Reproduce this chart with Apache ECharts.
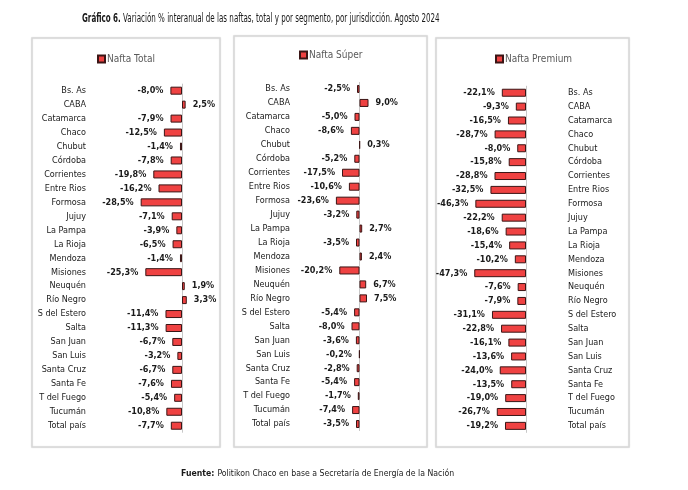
<!DOCTYPE html>
<html><head><meta charset="utf-8">
<script src="https://cdn.jsdelivr.net/npm/echarts@6/dist/echarts.min.js"></script>
<style>html,body{margin:0;padding:0;background:#fff}#c{width:688px;height:490px}</style>
</head><body><div id="c"></div>
<script>
const categories = ['Bs. As','CABA','Catamarca','Chaco','Chubut','Córdoba','Corrientes','Entre Rios','Formosa','Jujuy','La Pampa','La Rioja','Mendoza','Misiones','Neuquén','Río Negro','S del Estero','Salta','San Juan','San Luis','Santa Cruz','Santa Fe','T del Fuego','Tucumán','Total país'];
const naftaTotal = [-8.0,2.5,-7.9,-12.5,-1.4,-7.8,-19.8,-16.2,-28.5,-7.1,-3.9,-6.5,-1.4,-25.3,1.9,3.3,-11.4,-11.3,-6.7,-3.2,-6.7,-7.6,-5.4,-10.8,-7.7];
const naftaSuper = [-2.5,9.0,-5.0,-8.6,0.3,-5.2,-17.5,-10.6,-23.6,-3.2,2.7,-3.5,2.4,-20.2,6.7,7.5,-5.4,-8.0,-3.6,-0.2,-2.8,-5.4,-1.7,-7.4,-3.5];
const naftaPremium = [-22.1,-9.3,-16.5,-28.7,-8.0,-15.8,-28.8,-32.5,-46.3,-22.2,-18.6,-15.4,-10.2,-47.3,-7.6,-7.9,-31.1,-22.8,-16.1,-13.6,-24.0,-13.5,-19.0,-26.7,-19.2];
const seriesNames = ['Nafta Total','Nafta Súper','Nafta Premium'];

const FONT = "'DejaVu Sans Condensed','Liberation Sans Narrow','Liberation Sans',sans-serif";
const chart = echarts.init(document.getElementById('c'), null, {renderer:'canvas'});

const panels = [
  {zero:182, scale:1.45, min:-30, max:10, top:83.7, height:349, yPos:'left', labelEnd:86, legendLeft:92, legendTop:49, box:[32,38,188,409]},
  {zero:359.5, scale:1.0, min:-30, max:20, top:82, height:349, yPos:'left', labelEnd:290, legendLeft:294, legendTop:45, box:[234,36,193,411]},
  {zero:526, scale:1.094, min:-50, max:0, top:85.8, height:347, yPos:'right', labelStart:568, legendLeft:490, legendTop:49, box:[436,38,193,409]}
];
const dataSets = [naftaTotal, naftaSuper, naftaPremium];

const fmt = v => v.toFixed(1).replace('.',',') + '%';

const grids=[], xAxes=[], yAxes=[], series=[], legends=[], graphics=[];
panels.forEach((p,i)=>{
  const left = p.zero + p.min*p.scale;
  const width = (p.max - p.min)*p.scale;
  grids.push({left:left, width:width, top:p.top, height:p.height, containLabel:false});
  xAxes.push({gridIndex:i, type:'value', min:p.min, max:p.max, show:false});
  const margin = p.yPos==='left' ? (left - p.labelEnd) : (p.labelStart - (left+width));
  yAxes.push({gridIndex:i, type:'category', data:categories, inverse:true, position:p.yPos,
    axisLine:{show:false}, axisTick:{show:false}, splitLine:{show:false},
    axisLabel:{margin:margin, fontFamily:FONT, fontSize:9, color:'#1a1a1a'}});
  series.push({
    name:seriesNames[i], type:'bar', xAxisIndex:i, yAxisIndex:i, barWidth:8,
    itemStyle:{color:'#ef4242', borderColor:'#3a1515', borderWidth:1},
    data: dataSets[i].map(v=>({value:v, label:{position: v<0?'left':'right'}})),
    label:{show:true, distance:7, formatter:pr=>fmt(pr.value), fontFamily:FONT, fontSize:9, fontWeight:'bold', color:'#1a1a1a'},
    markLine:{silent:true, symbol:'none', label:{show:false}, lineStyle:{color:'#c8c8c8', type:'solid', width:1},
      data:[{xAxis:0}], z:1},
    z:3
  });
  legends.push({data:[seriesNames[i]], left:p.legendLeft, top:p.legendTop, icon:'rect', itemWidth:7, itemHeight:7, itemGap:4,
    textStyle:{fontFamily:FONT, fontSize:10, color:'#595959', padding:[0,0,0,-3]}});
  graphics.push({type:'rect', shape:{x:p.box[0], y:p.box[1], width:p.box[2], height:p.box[3]},
    style:{fill:'#fff', stroke:'#d6d6d6', lineWidth:1.5, shadowBlur:2, shadowColor:'rgba(0,0,0,0.08)'}, z:-10});
});

graphics.push({type:'text', x:82, y:13, scaleX:0.69, originX:0, originY:0, z:10, style:{
  text:'{b|Gráfico 6.} {n|Variación % interanual de las naftas, total y por segmento, por jurisdicción. Agosto 2024}',
  rich:{b:{fontFamily:FONT, fontSize:11.5, fontWeight:'bold', fill:'#1a1a1a'}, n:{fontFamily:FONT, fontSize:11.5, fill:'#1a1a1a'}}}});
graphics.push({type:'text', x:181, y:468, scaleX:0.91, originX:0, originY:0, z:10, style:{
  text:'{b|Fuente:} {n|Politikon Chaco en base a Secretaría de Energía de la Nación}',
  rich:{b:{fontFamily:FONT, fontSize:9.5, fontWeight:'bold', fill:'#1a1a1a'}, n:{fontFamily:FONT, fontSize:9.5, fill:'#1a1a1a'}}}});

chart.setOption({
  animation:false,
  backgroundColor:'#fff',
  grid:grids, xAxis:xAxes, yAxis:yAxes, series:series, legend:legends, graphic:graphics
});
</script></body></html>
